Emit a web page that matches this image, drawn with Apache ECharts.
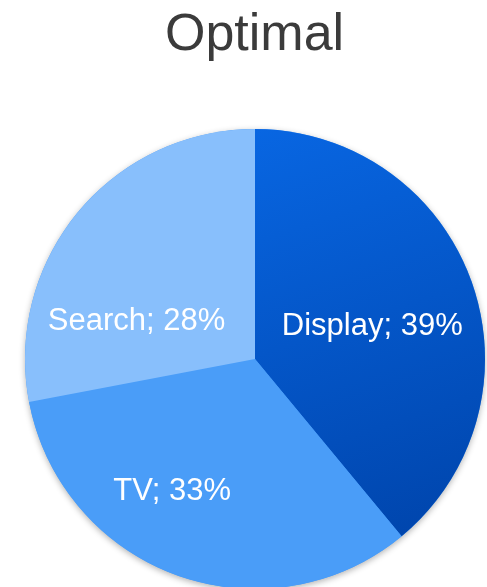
<!DOCTYPE html>
<html>
<head>
<meta charset="utf-8">
<script src="https://cdn.jsdelivr.net/npm/echarts@6/dist/echarts.min.js"></script>
<style>
  html, body { margin: 0; padding: 0; background: #ffffff; }
  #chart { width: 487px; height: 587px; }
</style>
</head>
<body>
<div id="chart"></div>
<script>
// Media mix shares (percent)
const channels = ['Display', 'TV', 'Search'];
const shares = [39, 33, 28];

// Label anchor for each slice, as offsets from the pie centre in units of the radius
const labelAnchors = [[0.51, -0.14], [-0.36, 0.575], [-0.515, -0.165]];

const sliceColors = [
  new echarts.graphic.LinearGradient(0, 0, 0.6, 1, [
    { offset: 0, color: '#0866E2' },
    { offset: 1, color: '#0046AE' }
  ]),
  '#4A9DF8',
  '#88BFFC'
];

const chart = echarts.init(document.getElementById('chart'), null, { renderer: 'canvas' });

const cx = 255, cy = 359, R = 230;
const total = shares.reduce((s, v) => s + v, 0);

chart.setOption({
  animation: false,
  title: {
    text: 'Optimal',
    left: 160,
    top: 5,
    textStyle: {
      fontFamily: 'Liberation Sans, Arial, sans-serif',
      fontSize: 52,
      fontWeight: 'normal',
      color: '#3b3b3b'
    }
  },
  series: [
    {
      // soft drop shadow under the whole disc
      type: 'pie',
      silent: true,
      z: 1,
      center: [cx, cy],
      radius: R,
      data: [{ value: total }],
      itemStyle: {
        color: '#4A9DF8',
        shadowBlur: 6,
        shadowOffsetY: 2,
        shadowColor: 'rgba(0,0,0,0.3)'
      },
      label: { show: false },
      labelLine: { show: false },
      emphasis: { disabled: true },
      tooltip: { show: false }
    },
    {
      type: 'pie',
      z: 2,
      center: [cx, cy],
      radius: R,
      startAngle: 90,
      clockwise: true,
      data: channels.map((name, i) => ({
        name: name,
        value: shares[i],
        itemStyle: { color: sliceColors[i] }
      })),
      itemStyle: { borderWidth: 0 },
      label: {
        show: true,
        position: 'inside',
        formatter: p => p.name + '; ' + p.value + '%',
        color: '#ffffff',
        fontFamily: 'Liberation Sans, Arial, sans-serif',
        fontSize: 31,
        align: 'center',
        verticalAlign: 'middle'
      },
      labelLine: { show: false },
      labelLayout: function (params) {
        const a = labelAnchors[params.dataIndex];
        return {
          x: cx + a[0] * R,
          y: cy + a[1] * R,
          align: 'center',
          verticalAlign: 'middle'
        };
      },
      emphasis: { disabled: true }
    }
  ]
});
</script>
</body>
</html>
